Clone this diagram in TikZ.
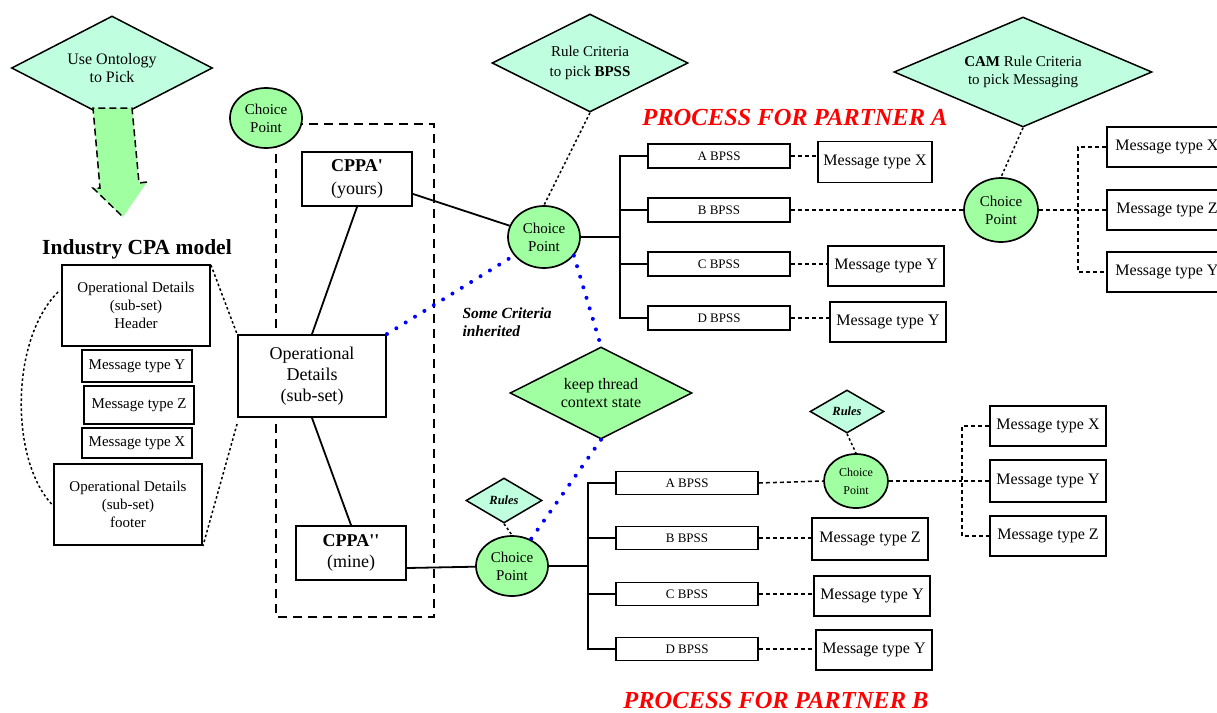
\documentclass[tikz,border=0pt]{standalone}
\usepackage{fontspec}
\setmainfont{Liberation Serif}[Ligatures=TeXOff]
\usetikzlibrary{shapes.geometric,calc}
\definecolor{mint}{HTML}{BFFFE0}
\definecolor{cpgreen}{HTML}{A0FFA0}
\begin{document}
\begin{tikzpicture}[x=1pt,y=-1pt,
  box/.style={draw,fill=white,line width=1.9pt,inner sep=0pt,align=center},
  cp/.style={ellipse,draw,line width=1.7pt,fill=cpgreen,inner sep=0pt,align=center,font=\fontsize{15}{18}\selectfont},
  dia/.style={diamond,draw,line width=1.5pt,fill=mint,inner sep=0pt,align=center,aspect=2},
  msg/.style={box,font=\fontsize{16}{18}\selectfont},
  bpss/.style={box,minimum width=142pt,font=\fontsize{13}{15}\selectfont},
  conn/.style={line width=1.8pt},
  dotconn/.style={line width=1.5pt,dash pattern=on 2.5pt off 2.5pt},
  dashconn/.style={line width=1.5pt,dash pattern=on 4pt off 3pt},
  bluedot/.style={blue,line width=4pt,line cap=round,dash pattern=on 0pt off 11pt},
  dashbox/.style={line width=1.7pt,dash pattern=on 9pt off 6pt},
  title/.style={red,font=\bfseries\itshape\fontsize{24.5}{26}\selectfont}]
\fill[white] (0,0) rectangle (1217,712);
\clip (0,0) rectangle (1217,712);

% ---- ontology diamond and arrow
\node[dia,aspect=1.93,minimum width=201pt,minimum height=104pt,font=\fontsize{16}{18}\selectfont] (onto) at (112,68) {Use Ontology\\to Pick};
\fill[cpgreen] (93,108) -- (132,108) -- (139,183) -- (147,182) -- (123,217) -- (93,188) -- (100,188) -- cycle;
\draw[line width=1.5pt,dash pattern=on 7pt off 4pt] (147,182) -- (139,183) -- (132,108) -- (93,108) -- (100,188) -- (93,188) -- (123,217);

% ---- industry CPA model
\node[font=\bfseries\fontsize{21.5}{23}\selectfont] (ind) at (137,249) {Industry CPA model};
\node[box,minimum width=148pt,minimum height=81pt,font=\fontsize{15}{18}\selectfont] (hdr) at (136,305.5) {Operational Details\\(sub-set)\\Header};
\node[box,minimum width=110pt,minimum height=32pt,font=\fontsize{15}{17}\selectfont] (lmy) at (137,366) {Message type Y};
\node[box,minimum width=110pt,minimum height=38pt,font=\fontsize{15}{17}\selectfont] (lmz) at (139,405) {Message type Z};
\node[box,minimum width=110pt,minimum height=30pt,font=\fontsize{15}{17}\selectfont] (lmx) at (137,443) {Message type X};
\node[box,minimum width=148pt,minimum height=81pt,font=\fontsize{15}{18}\selectfont] (ftr) at (128,504.5) {Operational Details\\(sub-set)\\footer};

% ---- dashed group
\draw[dashbox] (276,124) rectangle (434,617);
\node[cp,minimum width=72pt,minimum height=60pt] (cp0) at (266,118) {Choice\\Point};
\node[box,minimum width=110pt,minimum height=54pt,font=\fontsize{18}{23}\selectfont] (cppa1) at (357,179) {\textbf{CPPA'}\\(yours)};
\node[box,minimum width=148pt,minimum height=82pt,font=\fontsize{18}{21}\selectfont] (od) at (312,376) {Operational\\Details\\(sub-set)};
\node[box,minimum width=110pt,minimum height=54pt,font=\fontsize{18}{21}\selectfont] (cppa2) at (351,553) {\textbf{CPPA''}\\(mine)};

\draw[dotconn] ([yshift=-1pt]hdr.north east) -- (od.north west);
\draw[dotconn] ([yshift=-6pt]od.south west) -- (ftr.south east);
\draw[dotconn] ([yshift=13.5pt,xshift=-3pt]hdr.west) .. controls (10,340) and (10,460) .. ([xshift=-1pt]ftr.west);

\draw[conn] (cppa1.south) -- (od.north);
\draw[conn] (od.south) -- (cppa2.north);

% ---- partner A
\node[cp,minimum width=72pt,minimum height=62pt] (cpA) at (544,237) {Choice\\Point};
\node[dia,aspect=2,minimum width=196pt,minimum height=98pt,font=\fontsize{15}{20}\selectfont] (ruleA) at (590,63) {Rule Criteria\\to pick \textbf{BPSS}};
\node[title] (titleA) at (795,118) {PROCESS FOR PARTNER A};
\node[bpss,minimum height=24pt] (aA) at (719,156) {A BPSS};
\node[bpss,minimum height=24pt] (bA) at (719,210) {B BPSS};
\node[bpss,minimum height=24pt] (cA) at (719,264) {C BPSS};
\node[bpss,minimum height=24pt] (dA) at (719,318) {D BPSS};
\node[msg,minimum width=114pt,minimum height=41pt] (mxA) at (875,162) {Message type X};
\node[msg,minimum width=116pt,minimum height=40pt] (myC) at (886,266) {Message type Y};
\node[msg,minimum width=116pt,minimum height=40pt] (myD) at (888,322) {Message type Y};
\node[dia,aspect=2.35,minimum width=258pt,minimum height=110pt,font=\fontsize{15}{18}\selectfont] (cam) at (1023,72) {\textbf{CAM} Rule Criteria\\to pick Messaging};
\node[cp,minimum width=74pt,minimum height=64pt] (cpA2) at (1001,210) {Choice\\Point};
\node[msg,anchor=west,minimum width=120pt,minimum height=40pt] (mxA2) at (1106,147) {Message type X};
\node[msg,anchor=west,minimum width=120pt,minimum height=40pt] (mzA2) at (1106,210) {Message type Z};
\node[msg,anchor=west,minimum width=120pt,minimum height=40pt] (myA2) at (1106,272) {Message type Y};
\coordinate (jA) at (620,237);
\coordinate (jA2) at (1078,210);

\draw[conn] ([yshift=13pt]cppa1.south east) -- (cpA);
\draw[dotconn] (ruleA.south) -- (cpA.north);
\draw[conn] (cpA.east) -- (jA);
\draw[conn] (aA.west) -- (aA.west -| jA) -- (dA.west -| jA) -- (dA.west);
\draw[conn] (bA.west) -- (bA.west -| jA);
\draw[conn] (cA.west) -- (cA.west -| jA);
\draw[dashconn] (aA.east) -- (mxA.west |- aA.east);
\draw[dashconn] (bA.east) -- (cpA2.west);
\draw[dashconn] (cA.east) -- (myC.west |- cA.east);
\draw[dashconn] (dA.east) -- (myD.west |- dA.east);
\draw[dotconn] (cam.south) -- (cpA2.north);
\draw[dashconn] (cpA2.east) -- (jA2);
\draw[dashconn] (mxA2.west) -- (mxA2.west -| jA2) -- (myA2.west -| jA2) -- (myA2.west);
\draw[dashconn] (mzA2.west) -- (mzA2.west -| jA2);

% ---- middle
\node[dia,aspect=1.98,fill=cpgreen,minimum width=182pt,minimum height=92pt,font=\fontsize{16}{18}\selectfont] (keep) at (601,393) {keep thread\\context state};
\node[anchor=west,align=left,font=\bfseries\itshape\fontsize{15.5}{18}\selectfont] (some) at (459,322) {Some Criteria\\inherited};

% ---- partner B
\node[cp,minimum width=72pt,minimum height=60pt] (cpB) at (512,566) {Choice\\Point};
\node[dia,aspect=1.7,minimum width=76pt,minimum height=45pt,font=\bfseries\itshape\fontsize{12.5}{14}\selectfont] (rulesB) at (504,500.5) {Rules};
\node[bpss,minimum height=23pt] (aB) at (687,483) {A BPSS};
\node[bpss,minimum height=23pt] (bB) at (687,538) {B BPSS};
\node[bpss,minimum height=23pt] (cB) at (687,594) {C BPSS};
\node[bpss,minimum height=23pt] (dB) at (687,649) {D BPSS};
\node[cp,minimum width=64pt,minimum height=54pt,font=\fontsize{12}{18}\selectfont] (cpB2) at (856,481) {Choice\\Point};
\node[dia,aspect=1.7,minimum width=74pt,minimum height=43pt,font=\bfseries\itshape\fontsize{12.5}{14}\selectfont] (rulesB2) at (847,411.5) {Rules};
\node[msg,minimum width=116pt,minimum height=42pt] (mzB) at (870,539) {Message type Z};
\node[msg,minimum width=116pt,minimum height=40pt] (myB1) at (872,596) {Message type Y};
\node[msg,minimum width=116pt,minimum height=40pt] (myB2) at (874,650) {Message type Y};
\node[msg,minimum width=116pt,minimum height=40pt] (mxB3) at (1048,426) {Message type X};
\node[msg,minimum width=116pt,minimum height=42pt] (myB3) at (1048,481) {Message type Y};
\node[msg,minimum width=116pt,minimum height=40pt] (mzB3) at (1048,536) {Message type Z};
\node[title] (titleB) at (776,700) {PROCESS FOR PARTNER B};
\coordinate (jB) at (588,566);
\coordinate (jB2) at (962,481);

\draw[conn] ([yshift=-15pt]cppa2.east) -- (cpB);
\draw[dotconn] (rulesB.south) -- (cpB.north);
\draw[conn] (cpB.east) -- (jB);
\draw[conn] (aB.west) -- (aB.west -| jB) -- (dB.west -| jB) -- (dB.west);
\draw[conn] (bB.west) -- (bB.west -| jB);
\draw[conn] (cB.west) -- (cB.west -| jB);
\draw[dashconn] (aB.east) -- (cpB2.west);
\draw[dashconn] (bB.east) -- (mzB.west |- bB.east);
\draw[dashconn] (cB.east) -- (myB1.west |- cB.east);
\draw[dashconn] (dB.east) -- (myB2.west |- dB.east);
\draw[dotconn] (rulesB2.south) -- (cpB2.north);
\draw[dashconn] (cpB2.east) -- (jB2);
\draw[dashconn] (mxB3.west) -- (mxB3.west -| jB2) -- (mzB3.west -| jB2) -- (mzB3.west);
\draw[dashconn] (myB3.west) -- (myB3.west -| jB2);

% ---- blue dotted links
\draw[bluedot] (od.north east) -- (cpA);
\draw[bluedot] (cpA.-32) -- (keep.north);
\draw[bluedot] (keep.south) -- (cpB);
\end{tikzpicture}
\end{document}
